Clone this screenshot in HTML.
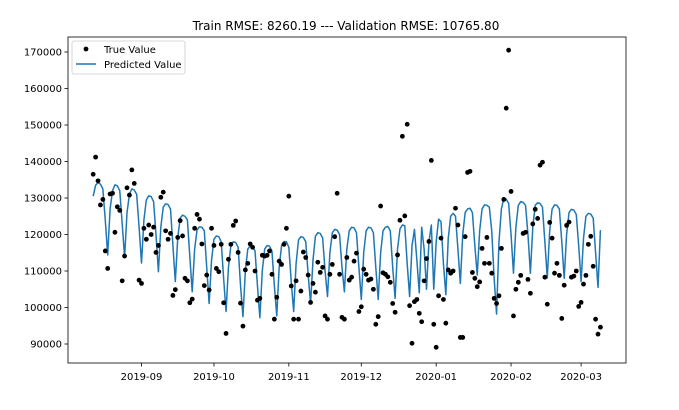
<!DOCTYPE html>
<html><head><meta charset="utf-8">
<style>
html,body{margin:0;padding:0;background:#fff;}
svg{display:block;font-family:"DejaVu Sans","Liberation Sans",sans-serif;}
</style></head>
<body>
<svg id="chart" width="679" height="410" viewBox="0 0 679 410" xmlns="http://www.w3.org/2000/svg">
<rect x="0" y="0" width="679" height="410" fill="#fff"/>
<text x="346" y="30" font-size="12" text-anchor="middle" fill="#000">Train RMSE: 8260.19 --- Validation RMSE: 10765.80</text>
<g id="marks"></g>
<rect x="68" y="37" width="558" height="326" fill="none" stroke="#000" stroke-width="0.8"/>
<g id="axes"></g>
<g>
<rect x="72" y="41" width="113" height="33" rx="2" fill="#fff" fill-opacity="0.8" stroke="#ccc" stroke-width="0.8"/>
<circle cx="86" cy="49" r="2.4" fill="#000"/>
<text x="104" y="53" font-size="10" fill="#000">True Value</text>
<line x1="76" y1="64" x2="96" y2="64" stroke="#1f77b4" stroke-width="1.5"/>
<text x="104" y="68" font-size="10" fill="#000">Predicted Value</text>
</g>
</svg>
<script>
// day offsets from 2019-08-12
const trueDays = [0,1,2,3,4,5,6,7,8,9,10,11,12,13,14,15,16,17,19,20,21,22,23,24,25,26,27,28,29,30,31,32,33,34,35,36,37,38,39,40,41,42,43,44,45,46,47,48,49,50,51,52,53,54,55,56,57,58,59,60,61,62,63,64,65,66,67,68,69,70,71,72,73,74,75,76,77,78,79,80,81,82,83,84,85,86,87,88,89,90,91,92,93,94,95,96,97,98,99,100,101,102,103,104,105,106,107,108,109,110,111,112,113,114,115,116,117,118,119,120,121,122,123,124,125,126,127,128,129,130,131,132,133,134,135,136,137,138,139,140,141,142,143,144,145,146,147,148,149,150,151,152,153,154,155,156,157,158,159,160,161,162,163,164,165,166,167,168,169,170,171,172,173,174,175,176,177,178,179,180,181,182,183,184,185,186,187,188,189,190,191,192,193,194,195,196,197,198,199,200,201,202,203,204,205,206,207,208,209,210];
const trueValues = [136.5,141.2,134.7,128.1,129.6,115.5,110.7,131.1,131.3,120.6,127.6,126.6,107.3,114.1,132.8,130.8,137.7,134.0,107.5,106.6,121.7,118.7,122.6,120.0,122.0,115.1,117.0,130.2,131.6,121.0,118.7,120.3,103.3,104.9,119.2,123.8,119.6,108.0,107.3,101.3,102.3,121.7,125.5,124.2,117.4,106.0,108.9,104.8,121.7,117.0,110.7,109.8,117.3,101.3,92.9,113.2,117.3,122.5,123.7,115.1,101.2,94.9,110.3,112.1,117.4,116.5,110.0,102.0,102.5,114.3,114.1,114.3,115.5,109.1,96.8,102.8,112.7,111.8,117.3,121.7,130.5,105.9,96.8,107.3,96.8,104.5,115.2,113.7,108.9,101.4,106.6,104.2,112.4,109.6,111.0,97.7,96.8,109.1,111.8,119.4,131.3,109.1,97.3,96.8,113.7,107.5,108.3,112.7,114.9,98.9,100.2,110.5,109.1,107.5,107.8,105.0,95.4,97.5,127.8,109.5,109.1,108.4,106.9,101.1,98.7,114.4,123.9,146.9,125.1,150.2,100.5,90.2,101.6,102.2,98.4,96.1,107.3,113.4,118.1,140.3,95.4,89.1,103.2,119.0,102.2,95.7,110.3,109.4,110.0,127.2,122.6,91.8,91.8,119.4,137.0,137.3,109.6,108.0,105.7,107.0,116.2,112.1,119.2,112.1,109.4,102.5,101.1,103.2,116.2,129.6,154.6,170.5,131.8,97.7,105.0,106.9,108.8,120.3,120.6,107.7,103.9,122.9,126.9,124.4,139.0,139.8,108.3,100.9,123.3,119.0,109.4,112.1,108.8,97.0,106.1,122.5,123.4,108.3,108.6,110.0,100.3,101.4,106.4,108.8,117.3,119.5,111.3,96.8,92.7,94.6];
const predValues = [130.5,133.5,134.2,133.8,132.5,124,114.4,
127,132,133.6,133.3,132,123,113.7,
126,131,132.5,132.2,131,122,112.2,
124,129.5,130.6,130.4,129,120,109.8,
122,127.5,128.4,128.2,127,117,107.1,
119,124.5,125.3,125,124,114,104.3,
116,121.3,122.1,122,121,111,101.1,
113,118.7,119.6,119.4,118,108,98.9,
111,117,118,117.8,116.5,106,97.5,
110,116,116.9,116.8,115.5,106,97.2,
110,116,117,116.8,115.5,106,97.7,
111,117,118.1,118,116.5,107,98.9,
112,118.5,119.4,119.2,118,109,101.1,
113,119.5,120.5,120.3,119,110,103,
115,120.5,121.4,121.2,120,111,104.3,
116,121,122,121.8,120.5,111,102.2,
115,121,122,121.8,120.5,111,102.2,
115,121,122,122.2,121,111,102.5,
116,121.5,122.6,122.4,112,103,
117,121.4,113,104,122,116,
105,118,122.6,105,118,124.2,123.5,112,103.5,
119,125,125.8,125,116,106.6,
120,126,127,127.2,126,117,108.9,
121,127,128.1,128,127.5,121,108,98.2,
118,127,129.9,129.7,128.5,120,109.4,
122,128,129,128.8,128,120,109.4,
122,128,128.7,128.5,127.5,118,108.1,
121,127,128.1,128,127,118,108,
120,126,126.9,126.7,125.5,117,107.1,
119,125,125.8,125.6,124.5,115,105.5,
121.2];
const yTickValues = [90000,100000,110000,120000,130000,140000,150000,160000,170000];
const xTickDays = [20,50,81,111,142,173,202];
const xTickLabels = ["2019-09","2019-10","2019-11","2019-12","2020-01","2020-02","2020-03"];

const NS = "http://www.w3.org/2000/svg";
const PX_PER_DAY = 2.4154;
function xScale(d){ return 68 + (d + 10.43) * PX_PER_DAY; }
function yScale(v){ return 52 + (170000 - v) / 273.97; }
const marks = document.getElementById('marks');
const axes = document.getElementById('axes');

// predicted line
let dStr = '';
predValues.forEach((v,i)=>{ dStr += (i?'L':'M') + xScale(i).toFixed(2) + ',' + yScale(v*1000).toFixed(2); });
const path = document.createElementNS(NS,'path');
path.setAttribute('d', dStr);
path.setAttribute('fill','none');
path.setAttribute('stroke','#1f77b4');
path.setAttribute('stroke-width','1.5');
path.setAttribute('stroke-linejoin','round');


marks.appendChild(path);

// true value dots
trueDays.forEach((d,i)=>{
  const c = document.createElementNS(NS,'circle');
  c.setAttribute('cx', xScale(d).toFixed(2));
  c.setAttribute('cy', yScale(trueValues[i]*1000).toFixed(2));
  c.setAttribute('r','2.4');
  c.setAttribute('fill','#000');
  
  
  marks.appendChild(c);
});

// y ticks
yTickValues.forEach(v=>{
  const y = yScale(v);
  const t = document.createElementNS(NS,'line');
  t.setAttribute('x1','64.5'); t.setAttribute('x2','68');
  t.setAttribute('y1',y); t.setAttribute('y2',y);
  t.setAttribute('stroke','#000'); t.setAttribute('stroke-width','0.8');
  
  
  axes.appendChild(t);
  const lb = document.createElementNS(NS,'text');
  lb.setAttribute('x','62'); lb.setAttribute('y', y+3.5);
  lb.setAttribute('text-anchor','end'); lb.setAttribute('font-size','10');
  lb.textContent = String(v);
  
  
  axes.appendChild(lb);
});
// x ticks
xTickDays.forEach((d,i)=>{
  const x = xScale(d);
  const t = document.createElementNS(NS,'line');
  t.setAttribute('x1',x); t.setAttribute('x2',x);
  t.setAttribute('y1','363'); t.setAttribute('y2','366.5');
  t.setAttribute('stroke','#000'); t.setAttribute('stroke-width','0.8');
  
  
  axes.appendChild(t);
  const lb = document.createElementNS(NS,'text');
  lb.setAttribute('x',x); lb.setAttribute('y','380');
  lb.setAttribute('text-anchor','middle'); lb.setAttribute('font-size','10');
  lb.textContent = xTickLabels[i];
  
  
  axes.appendChild(lb);
});
</script>
</body></html>
